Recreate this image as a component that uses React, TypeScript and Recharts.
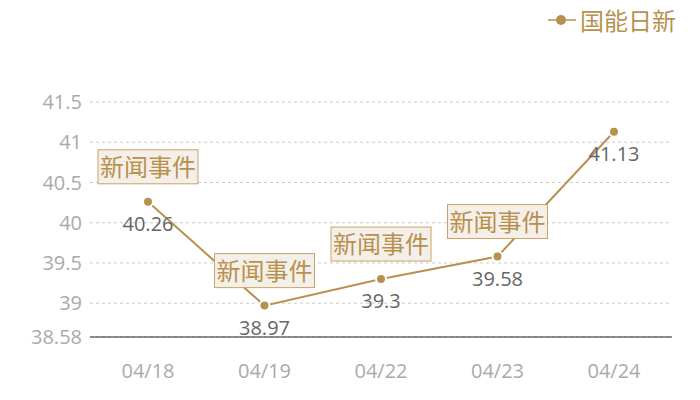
import React from "react"
import {
  LineChart,
  Line,
  XAxis,
  YAxis,
  CartesianGrid,
  LabelList,
} from "recharts"

const dates = ["04/18", "04/19", "04/22", "04/23", "04/24"]
const prices = [40.26, 38.97, 39.3, 39.58, 41.13]
const events = ["新闻事件", "新闻事件", "新闻事件", "新闻事件", ""]
const yTicks = [38.58, 39, 39.5, 40, 40.5, 41, 41.5]
const seriesName = "国能日新"

const GOLD = "#b8914f"
const FONT = '"Noto Sans CJK SC", "Noto Sans", sans-serif'
const NUM_FONT = '"Open Sans", sans-serif'

const data = dates.map((d, i) => ({ date: d, price: prices[i], event: events[i] }))

function ValueLabel(props: any) {
  const { x, y, value } = props
  return (
    <text
      x={x}
      y={y + 29}
      textAnchor="middle"
      fill="#666"
      fontSize={20}
      fontFamily={NUM_FONT}
    >
      {value}
    </text>
  )
}

function EventLabel(props: any) {
  const { x, y, value } = props
  if (!value) return null
  return (
    <g>
      <rect
        x={x - 50}
        y={y - 52}
        width={100}
        height={34}
        fill="#f4efe8"
        stroke="#c9a36a"
        strokeWidth={1}
      />
      <text
        x={x}
        y={y - 26}
        textAnchor="middle"
        fill={GOLD}
        fontSize={24}
        fontFamily={FONT}
      >
        {value}
      </text>
    </g>
  )
}

export default function App() {
  return (
    <div style={{ position: "absolute", left: 0, top: 0, width: 700, height: 400, fontFamily: FONT }}>
      <div
        style={{
          position: "absolute",
          left: 548,
          top: 2,
          display: "flex",
          alignItems: "center",
          color: GOLD,
          fontSize: 24,
        }}
      >
        <svg width={28} height={14} style={{ marginRight: 4 }}>
          <line x1={0} y1={7} x2={28} y2={7} stroke={GOLD} strokeWidth={1.5} />
          <circle cx={13} cy={7} r={5} fill={GOLD} />
        </svg>
        <span>{seriesName}</span>
      </div>
      <LineChart
        width={700}
        height={400}
        data={data}
        margin={{ top: 102, right: 28, bottom: 0, left: 0 }}
      >
        <CartesianGrid vertical={false} stroke="#ccc" strokeDasharray="3 3" />
        <XAxis
          dataKey="date"
          height={63}
          padding={{ left: 58, right: 58 }}
          axisLine={{ stroke: "#222" }}
          tickLine={false}
          tickMargin={21}
          tick={{ fill: "#aaa", fontSize: 20, fontFamily: NUM_FONT }}
        />
        <YAxis
          width={90}
          domain={[38.58, 41.5]}
          ticks={yTicks}
          axisLine={false}
          tickLine={false}
          tick={{ fill: "#aaa", fontSize: 20, fontFamily: NUM_FONT }}
        />
        <Line
          type="linear"
          dataKey="price"
          name={seriesName}
          stroke={GOLD}
          strokeWidth={2}
          dot={{ r: 5, fill: GOLD, stroke: "#fff", strokeWidth: 2 }}
          isAnimationActive={false}
        >
          <LabelList dataKey="price" content={ValueLabel} />
          <LabelList dataKey="event" content={EventLabel} />
        </Line>
      </LineChart>
    </div>
  )
}
